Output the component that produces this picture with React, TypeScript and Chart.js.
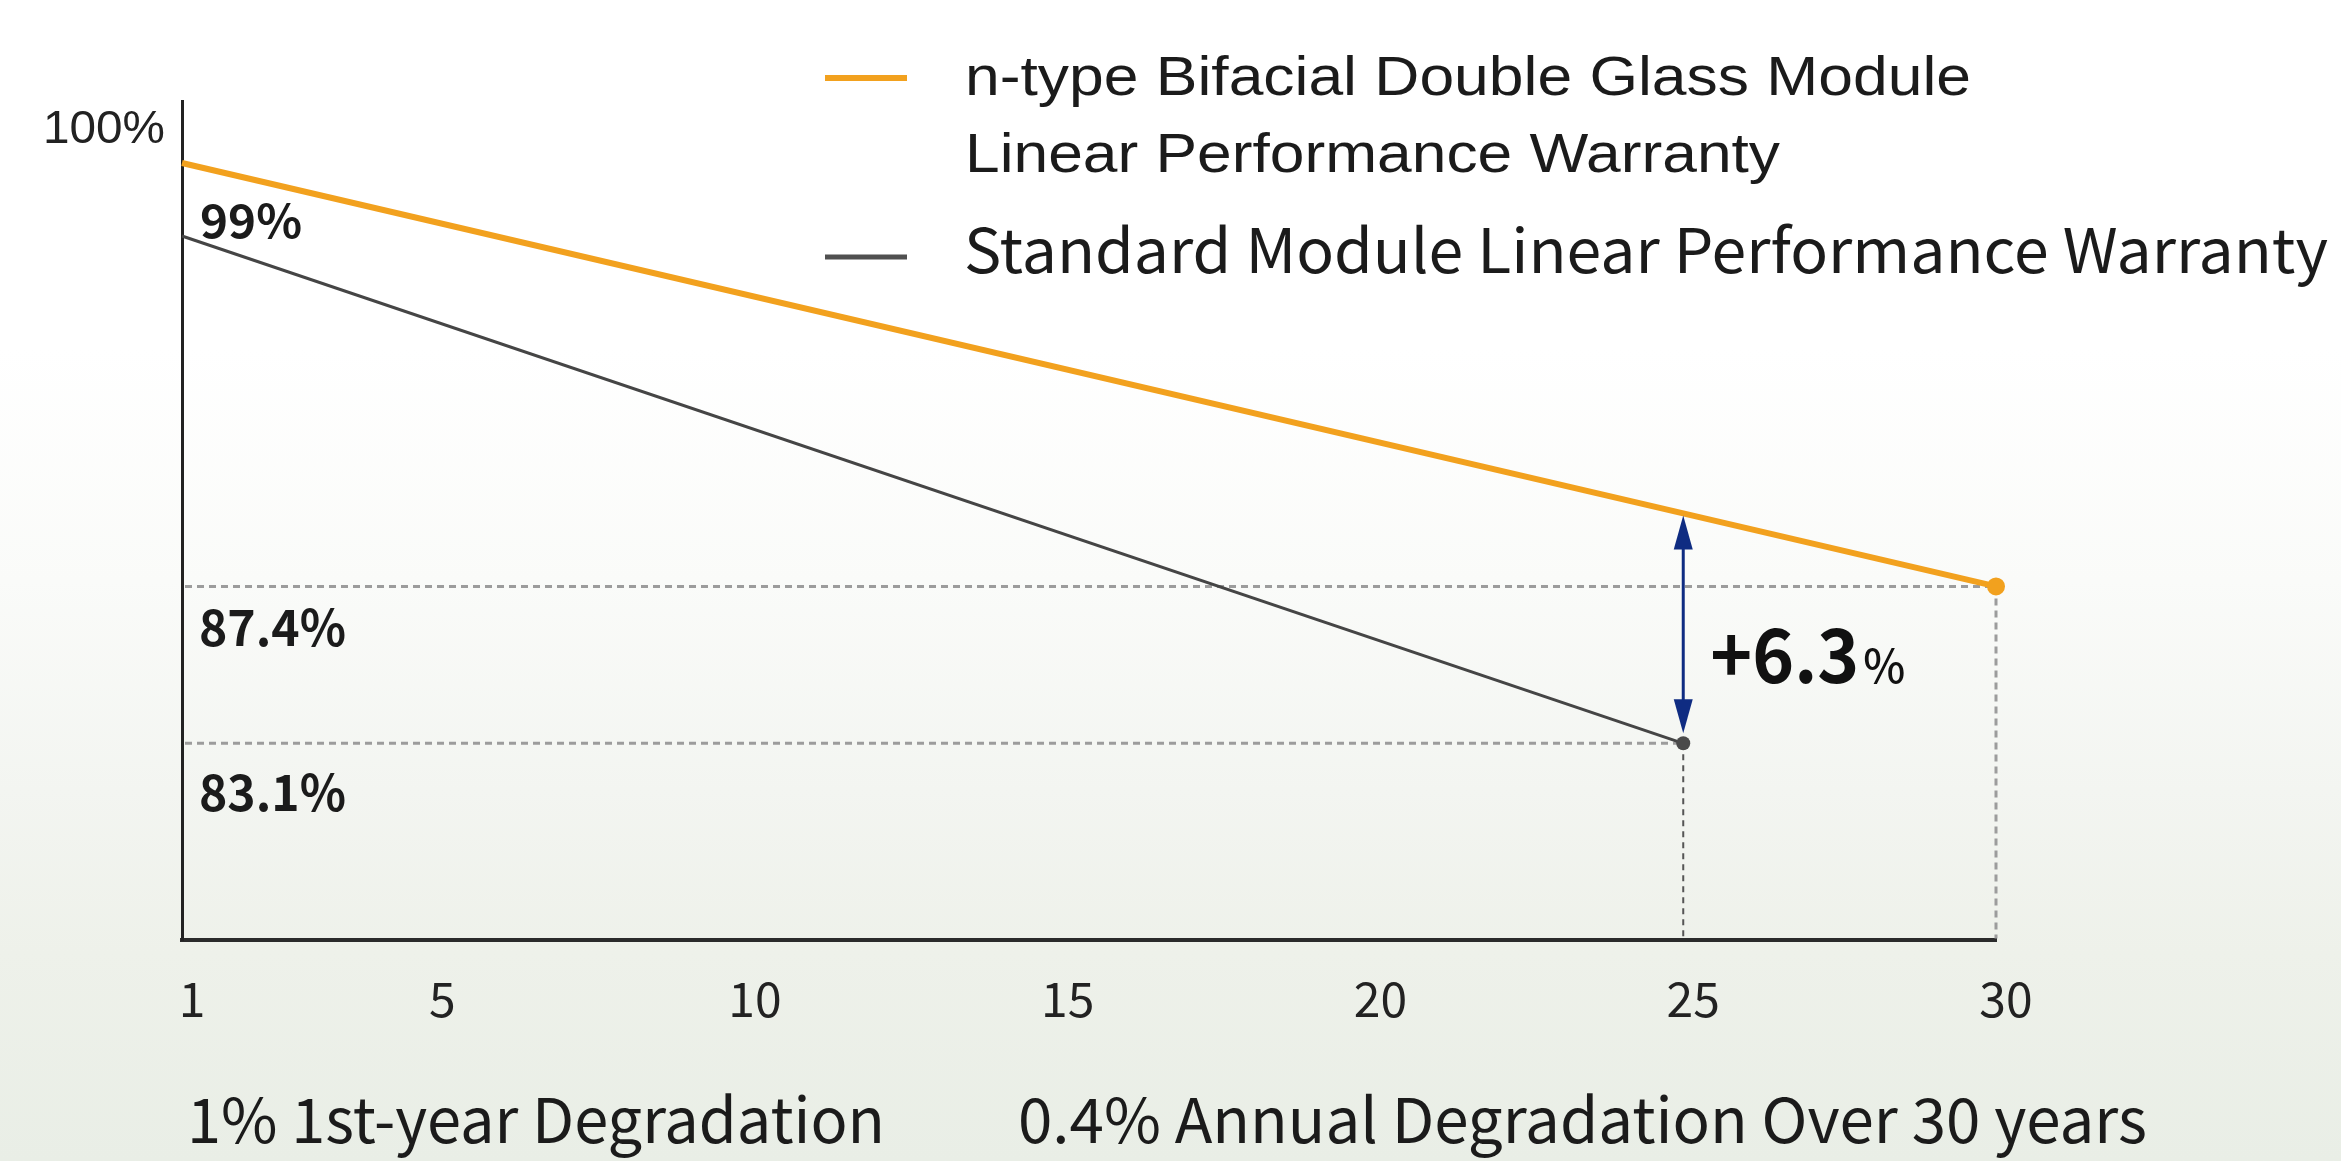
import React, { useEffect, useRef } from "react";
import { Chart, registerables } from "chart.js";

Chart.register(...registerables);

// ---------- data ----------
const xTickYears = [1, 5, 10, 15, 20, 25, 30];
const bifacialYears = [1, 30];
const bifacialValues = [99, 87.4];
const standardYears = [1, 25];
const standardValues = [97, 83.1];
const gainYear = 25;
const gainRange = [83.1, 89.4];
const gainText = "+6.3";
const valueLabels = ["99%", "87.4%", "83.1%"];
const yTopValue = 100;
const yTopLabel = "100%";
const legendLines = [
  "n-type Bifacial Double Glass Module",
  "Linear Performance Warranty",
  "Standard Module Linear Performance Warranty",
];
const footnotes = ["1% 1st-year Degradation", "0.4% Annual Degradation Over 30 years"];

// ---------- styles ----------
const W = 2341;
const H = 1161;
const ORANGE = "#f2a11e";
const GRAY = "#454545";
const NAVY = "#0f2c82";
const TEXT = "#1b1b1b";
const CJK = '"Noto Sans CJK SC", "Noto Sans", sans-serif';
const ARIAL = '"Liberation Sans", Arial, sans-serif';

function fitText(
  ctx: CanvasRenderingContext2D,
  text: string,
  x: number,
  y: number,
  font: string,
  width?: number,
  color: string = TEXT,
  align: "left" | "right" | "center" = "left"
) {
  ctx.save();
  ctx.font = font;
  ctx.fillStyle = color;
  ctx.textBaseline = "alphabetic";
  ctx.textAlign = "left";
  const w = ctx.measureText(text).width;
  const sx = width ? width / w : 1;
  const dw = w * sx;
  let x0 = x;
  if (align === "right") x0 = x - dw;
  else if (align === "center") x0 = x - dw / 2;
  ctx.translate(x0, y);
  ctx.scale(sx, 1);
  ctx.fillText(text, 0, 0);
  ctx.restore();
  return dw;
}

function seg(ctx: CanvasRenderingContext2D, x1: number, y1: number, x2: number, y2: number) {
  ctx.beginPath();
  ctx.moveTo(x1, y1);
  ctx.lineTo(x2, y2);
  ctx.stroke();
}

const guidesPlugin = {
  id: "guides",
  beforeDatasetsDraw(chart: any) {
    const { ctx, chartArea } = chart;
    const xs = chart.scales.x;
    const ys = chart.scales.y;
    const { left, bottom } = chartArea;
    ctx.save();
    ctx.lineCap = "butt";
    const xB = xs.getPixelForValue(bifacialYears[bifacialYears.length - 1]);
    const yB = ys.getPixelForValue(bifacialValues[bifacialValues.length - 1]);
    ctx.strokeStyle = "#9c9c9c";
    ctx.lineWidth = 3;
    ctx.setLineDash([7, 5]);
    seg(ctx, left + 3, yB, xB, yB);
    seg(ctx, xB, yB, xB, bottom - 2);
    const xS = xs.getPixelForValue(standardYears[standardYears.length - 1]);
    const yS = ys.getPixelForValue(standardValues[standardValues.length - 1]);
    seg(ctx, left + 3, yS, xS, yS);
    ctx.strokeStyle = "#555555";
    ctx.lineWidth = 2;
    ctx.setLineDash([6, 5]);
    seg(ctx, xS, yS, xS, bottom - 2);
    ctx.restore();
  },
  afterDatasetsDraw(chart: any) {
    const { ctx } = chart;
    const xs = chart.scales.x;
    const ys = chart.scales.y;
    const ax = xs.getPixelForValue(gainYear);
    const yTop = ys.getPixelForValue(gainRange[1]);
    const yBot = ys.getPixelForValue(gainRange[0]);
    const tipTop = yTop + 2;
    const tipBot = yBot - 10;
    const headL = 34;
    const headW = 9.5;
    ctx.save();
    ctx.strokeStyle = NAVY;
    ctx.fillStyle = NAVY;
    ctx.lineWidth = 3;
    seg(ctx, ax, tipTop + headL - 2, ax, tipBot - headL + 2);
    ctx.beginPath();
    ctx.moveTo(ax, tipTop);
    ctx.lineTo(ax - headW, tipTop + headL);
    ctx.lineTo(ax + headW, tipTop + headL);
    ctx.closePath();
    ctx.fill();
    ctx.beginPath();
    ctx.moveTo(ax, tipBot);
    ctx.lineTo(ax - headW, tipBot - headL);
    ctx.lineTo(ax + headW, tipBot - headL);
    ctx.closePath();
    ctx.fill();
    ctx.restore();
  },
  afterDraw(chart: any) {
    const { ctx, chartArea } = chart;
    const xs = chart.scales.x;
    const ys = chart.scales.y;
    const { left } = chartArea;

    fitText(ctx, yTopLabel, left - 17, ys.getPixelForValue(yTopValue) + 16, `47px ${ARIAL}`, 122, "#222", "right");

    fitText(ctx, valueLabels[0], left + 18, ys.getPixelForValue(bifacialValues[0]) + 75, `bold 46px ${CJK}`, 102);
    fitText(ctx, valueLabels[1], left + 17, ys.getPixelForValue(bifacialValues[1]) + 60, `bold 50px ${CJK}`, 147);
    fitText(ctx, valueLabels[2], left + 17, ys.getPixelForValue(standardValues[1]) + 68, `bold 50px ${CJK}`, 147);

    const ax = xs.getPixelForValue(gainYear);
    const mid = (ys.getPixelForValue(gainRange[0]) + ys.getPixelForValue(gainRange[1])) / 2;
    const gw = fitText(ctx, gainText, ax + 27, mid + 55, `bold 75px ${CJK}`, 149, "#111");
    fitText(ctx, "%", ax + 27 + gw + 4, mid + 55, `500 46px ${CJK}`, 42, "#111");

    ctx.save();
    ctx.lineCap = "butt";
    ctx.strokeStyle = ORANGE;
    ctx.lineWidth = 6;
    seg(ctx, 825, 78, 907, 78);
    ctx.strokeStyle = "#505050";
    ctx.lineWidth = 5;
    seg(ctx, 825, 257, 907, 257);
    ctx.restore();
    fitText(ctx, legendLines[0], 965, 95, `56px ${ARIAL}`, 1006);
    fitText(ctx, legendLines[1], 965, 172, `56px ${ARIAL}`, 815);
    fitText(ctx, legendLines[2], 964, 273, `61px ${CJK}`, 1364);

    fitText(ctx, footnotes[0], 187, 1143, `62px ${CJK}`, 698);
    fitText(ctx, footnotes[1], 1018, 1143, `62px ${CJK}`, 1129);
  },
};

export default function App() {
  const canvasRef = useRef<HTMLCanvasElement | null>(null);

  useEffect(() => {
    document.body.style.margin = "0";
    const canvas = canvasRef.current;
    if (!canvas) return;
    const chart = new Chart(canvas, {
      type: "line",
      data: {
        datasets: [
          {
            label: legendLines[0] + " " + legendLines[1],
            data: bifacialYears.map((x, i) => ({ x, y: bifacialValues[i] })),
            borderColor: ORANGE,
            backgroundColor: ORANGE,
            borderWidth: 6,
            pointRadius: [0, 9],
            pointBackgroundColor: ORANGE,
            pointBorderWidth: 0,
            clip: false as any,
            order: 1,
          },
          {
            label: legendLines[2],
            data: standardYears.map((x, i) => ({ x, y: standardValues[i] })),
            borderColor: GRAY,
            backgroundColor: GRAY,
            borderWidth: 3,
            pointRadius: [0, 7],
            pointBackgroundColor: "#4a4a4a",
            pointBorderWidth: 0,
            clip: false as any,
            order: 2,
          },
        ],
      },
      options: {
        responsive: false,
        animation: false,
        devicePixelRatio: 1,
        layout: { padding: { left: 182, right: 345, top: 101, bottom: 103 } },
        plugins: {
          legend: { display: false },
          tooltip: { enabled: false },
        },
        scales: {
          x: {
            type: "linear",
            min: 1,
            max: 30,
            afterBuildTicks: (axis: any) => {
              axis.ticks = xTickYears.map((v) => ({ value: v }));
            },
            ticks: {
              font: { family: CJK, size: 48 },
              color: "#222",
              padding: 30,
              labelOffset: 10,
              maxRotation: 0,
              autoSkip: false,
              callback: (v: any) => String(v),
            },
            grid: { display: false, drawTicks: false },
            border: { display: true, color: "#2b2b2b", width: 4 },
          },
          y: {
            min: 77.7,
            max: 100.7,
            ticks: { display: false },
            grid: { display: false, drawTicks: false },
            border: { display: true, color: "#222", width: 3 },
          },
        },
      },
      plugins: [guidesPlugin],
    });

    let alive = true;
    const fonts = [`48px "Noto Sans CJK SC"`, `bold 48px "Noto Sans CJK SC"`, `48px "Liberation Sans"`];
    Promise.all(fonts.map((f) => (document as any).fonts.load(f)))
      .catch(() => null)
      .then(() => {
        if (alive) chart.update();
      });

    return () => {
      alive = false;
      chart.destroy();
    };
  }, []);

  return (
    <div
      style={{
        position: "absolute",
        left: 0,
        top: 0,
        width: W,
        height: H,
        background:
          "linear-gradient(180deg, #ffffff 0%, #ffffff 30%, #fafbf9 50%, #f3f5f1 68%, #eef1ea 82%, #e9eee6 100%)",
      }}
    >
      <canvas ref={canvasRef} width={W} height={H} style={{ display: "block", width: W, height: H }} />
    </div>
  );
}
